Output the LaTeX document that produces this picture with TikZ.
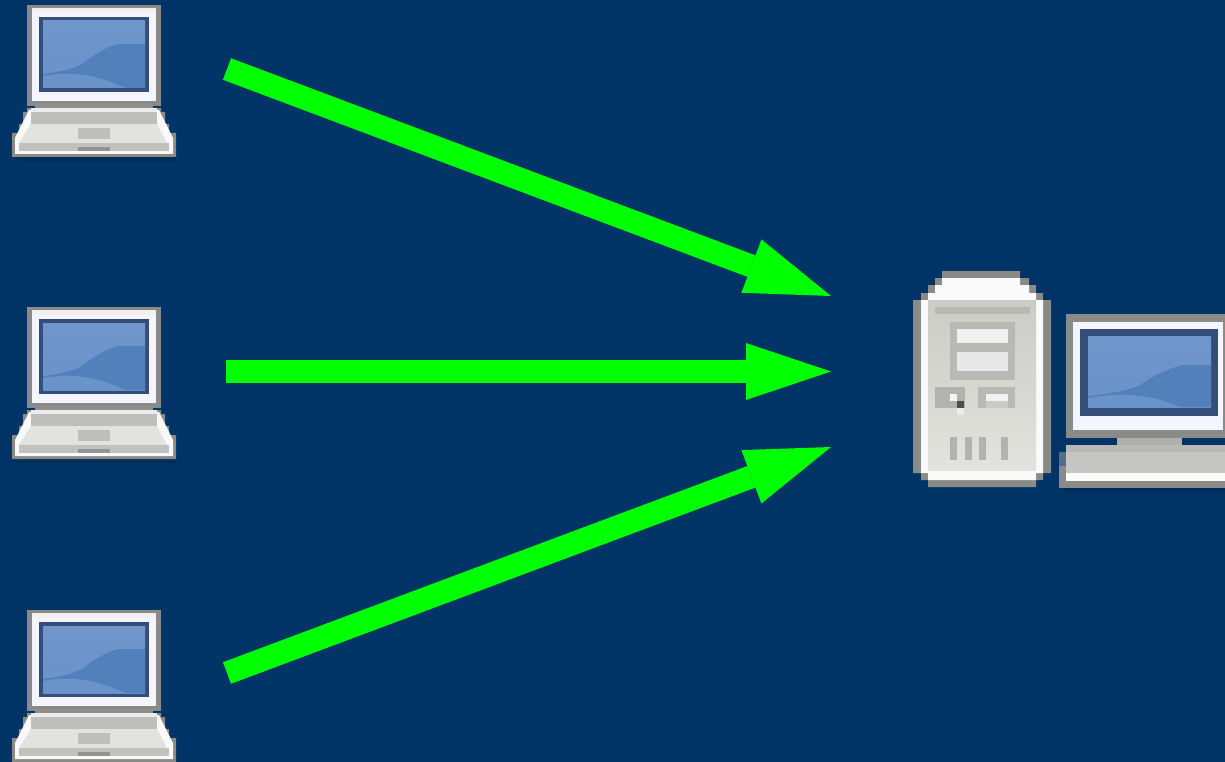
\documentclass[tikz,border=0pt]{standalone}
\usetikzlibrary{arrows.meta,calc}
\definecolor{bgblue}{RGB}{0,51,102}
\definecolor{shadowblue}{RGB}{0,44,90}
\definecolor{framegray}{RGB}{138,138,134}
\definecolor{screenedge}{RGB}{52,78,122}
\definecolor{screenbase}{RGB}{106,147,201}
\definecolor{screenlow}{RGB}{82,128,186}
\definecolor{screenhigh}{RGB}{112,150,204}
\definecolor{deck}{RGB}{226,226,224}
\definecolor{keys}{RGB}{190,190,186}
\definecolor{face}{RGB}{204,204,198}
\definecolor{facelow}{RGB}{226,226,222}
\definecolor{baygray}{RGB}{184,184,180}
\definecolor{edgeblue}{RGB}{84,110,136}
\tikzset{
  x=1pt,y=-1pt,
  flow/.style={draw=green,line width=23pt,-{Triangle[length=85pt,width=57pt,line width=0pt,fill=green]}},
  laptop/.pic={
    \fill[shadowblue] (18,150) rectangle (176,161);
    % lid
    \fill[framegray] (27,5) rectangle (161,106);
    \fill[white!96!blue] (32,10) rectangle (156,101);
    \fill[white!88!gray] (32,8) rectangle (156,13);
    \fill[screenedge] (39,17) rectangle (149,92);
    \shade[top color=screenhigh,bottom color=screenbase] (43,21) rectangle (145,88);
    \fill[screenlow] (145,44) -- (118,44) .. controls (104,48) and (92,56) .. (82,64) .. controls (70,70) and (58,72) .. (43,74) -- (43,88) -- (145,88) -- cycle;
    \fill[screenbase] (43,76) .. controls (70,71) and (95,74) .. (125,88) -- (43,88) -- cycle;
    % base
    \fill[framegray] (27,108) -- (161,108) -- (161,112) -- (165,112) -- (165,124) -- (169,124) -- (169,133) -- (176,133) -- (176,157) -- (12,157) -- (12,133) -- (19,133) -- (19,124) -- (23,124) -- (23,112) -- (27,112) -- cycle;
    \fill[white!95!gray] (29,110) -- (159,110) -- (173,138) -- (173,154) -- (15,154) -- (15,138) -- cycle;
    \fill[deck] (31,124) -- (157,124) -- (167,143) -- (19,143) -- cycle;
    \fill[keys] (31,112) -- (157,112) -- (157,124) -- (31,124) -- cycle;
    \fill[framegray!90!keys] (35,104) rectangle (153,108);
    \fill[white!85!gray] (31,108) rectangle (157,112);
    \fill[keys] (78,128) rectangle (110,139);
    \fill[keys!95!white] (19,143) rectangle (169,151);
    \fill[gray!85!white] (78,147) rectangle (110,151);
  },
  desktop/.pic={
    % tower
    \fill[framegray] (942,271) -- (1020,271) -- (1020,278) -- (1029,278) -- (1029,285) -- (1036,285) -- (1036,293) -- (1043,293) -- (1043,300) -- (1051,300) -- (1051,473) -- (1043,473) -- (1043,480) -- (1036,480) -- (1036,487) -- (928,487) -- (928,480) -- (921,480) -- (921,473) -- (913,473) -- (913,300) -- (921,300) -- (921,293) -- (928,293) -- (928,285) -- (935,285) -- (935,278) -- (942,278) -- cycle;
    \fill[white!96!gray] (942,278) -- (1020,278) -- (1020,285) -- (1029,285) -- (1029,293) -- (1036,293) -- (1036,300) -- (1043,300) -- (1043,473) -- (1036,473) -- (1036,480) -- (928,480) -- (928,473) -- (921,473) -- (921,300) -- (928,300) -- (928,293) -- (935,293) -- (935,285) -- (942,285) -- cycle;
    \shade[top color=face,bottom color=facelow] (928,300) rectangle (1036,470);
    \fill[baygray] (935,307) rectangle (1030,314);
    \fill[baygray] (950,322) rectangle (1015,380);
    \fill[white!88!gray] (957,329) rectangle (1008,343);
    \fill[white!82!gray] (957,352) rectangle (1008,371);
    \fill[baygray!90!gray] (935,387) rectangle (965,408);
    \fill[white!92!gray] (950,394) rectangle (957,401);
    \fill[gray!60!black] (957,401) rectangle (964,408);
    \fill[white!85!gray] (957,408) rectangle (964,415);
    \fill[baygray] (978,387) rectangle (1015,408);
    \fill[face] (986,401) rectangle (1008,408);
    \fill[white!90!gray] (986,394) rectangle (1008,401);
    \foreach \vx in {950,965,979,1001}{
      \fill[baygray!90!gray] (\vx,437) rectangle ++(7,23);
    }
    % monitor
    \fill[shadowblue] (1064,480) rectangle (1225,492);
    \fill[framegray] (1066,314) rectangle (1225,438);
    \fill[white!96!blue] (1073,322) rectangle (1223,430);
    \fill[screenedge] (1080,329) rectangle (1218,416);
    \shade[top color=screenhigh,bottom color=screenbase] (1088,336) rectangle (1211,407);
    \fill[screenlow] (1211,365) -- (1182,365) .. controls (1165,370) and (1150,378) .. (1140,385) .. controls (1125,392) and (1105,394) .. (1088,396) -- (1088,407) -- (1211,407) -- cycle;
    \fill[screenbase] (1088,398) .. controls (1120,392) and (1150,394) .. (1180,407) -- (1088,407) -- cycle;
    % stand and keyboard
    \fill[baygray!85!gray] (1117,438) rectangle (1182,445);
    \fill[edgeblue] (1059,452) rectangle (1066,466);
    \fill[framegray] (1059,466) rectangle (1225,488);
    \fill[baygray] (1066,445) rectangle (1225,452);
    \fill[keys!90!white] (1066,452) rectangle (1225,473);
    \fill[white!96!gray] (1066,473) rectangle (1225,481);
  }
}
\begin{document}
\begin{tikzpicture}
\useasboundingbox (0,0) rectangle (1225,762);
\begin{scope}
\clip (0,0) rectangle (1225,762);
\fill[bgblue] (0,0) rectangle (1225,762);
\pic (laptopa) at (0,0) {laptop};
\pic (laptopb) at (0,302) {laptop};
\pic (laptopc) at (0,605) {laptop};
\pic (server) at (0,0) {desktop};
\end{scope}
\coordinate (froma) at (227,69);
\coordinate (fromb) at (226,371.5);
\coordinate (fromc) at (227,673);
\coordinate (toa) at (831,296);
\coordinate (tob) at (831,371.5);
\coordinate (toc) at (831,447);
\draw[flow] (froma) -- (toa);
\draw[flow] (fromb) -- (tob);
\draw[flow] (fromc) -- (toc);
\end{tikzpicture}
\end{document}
